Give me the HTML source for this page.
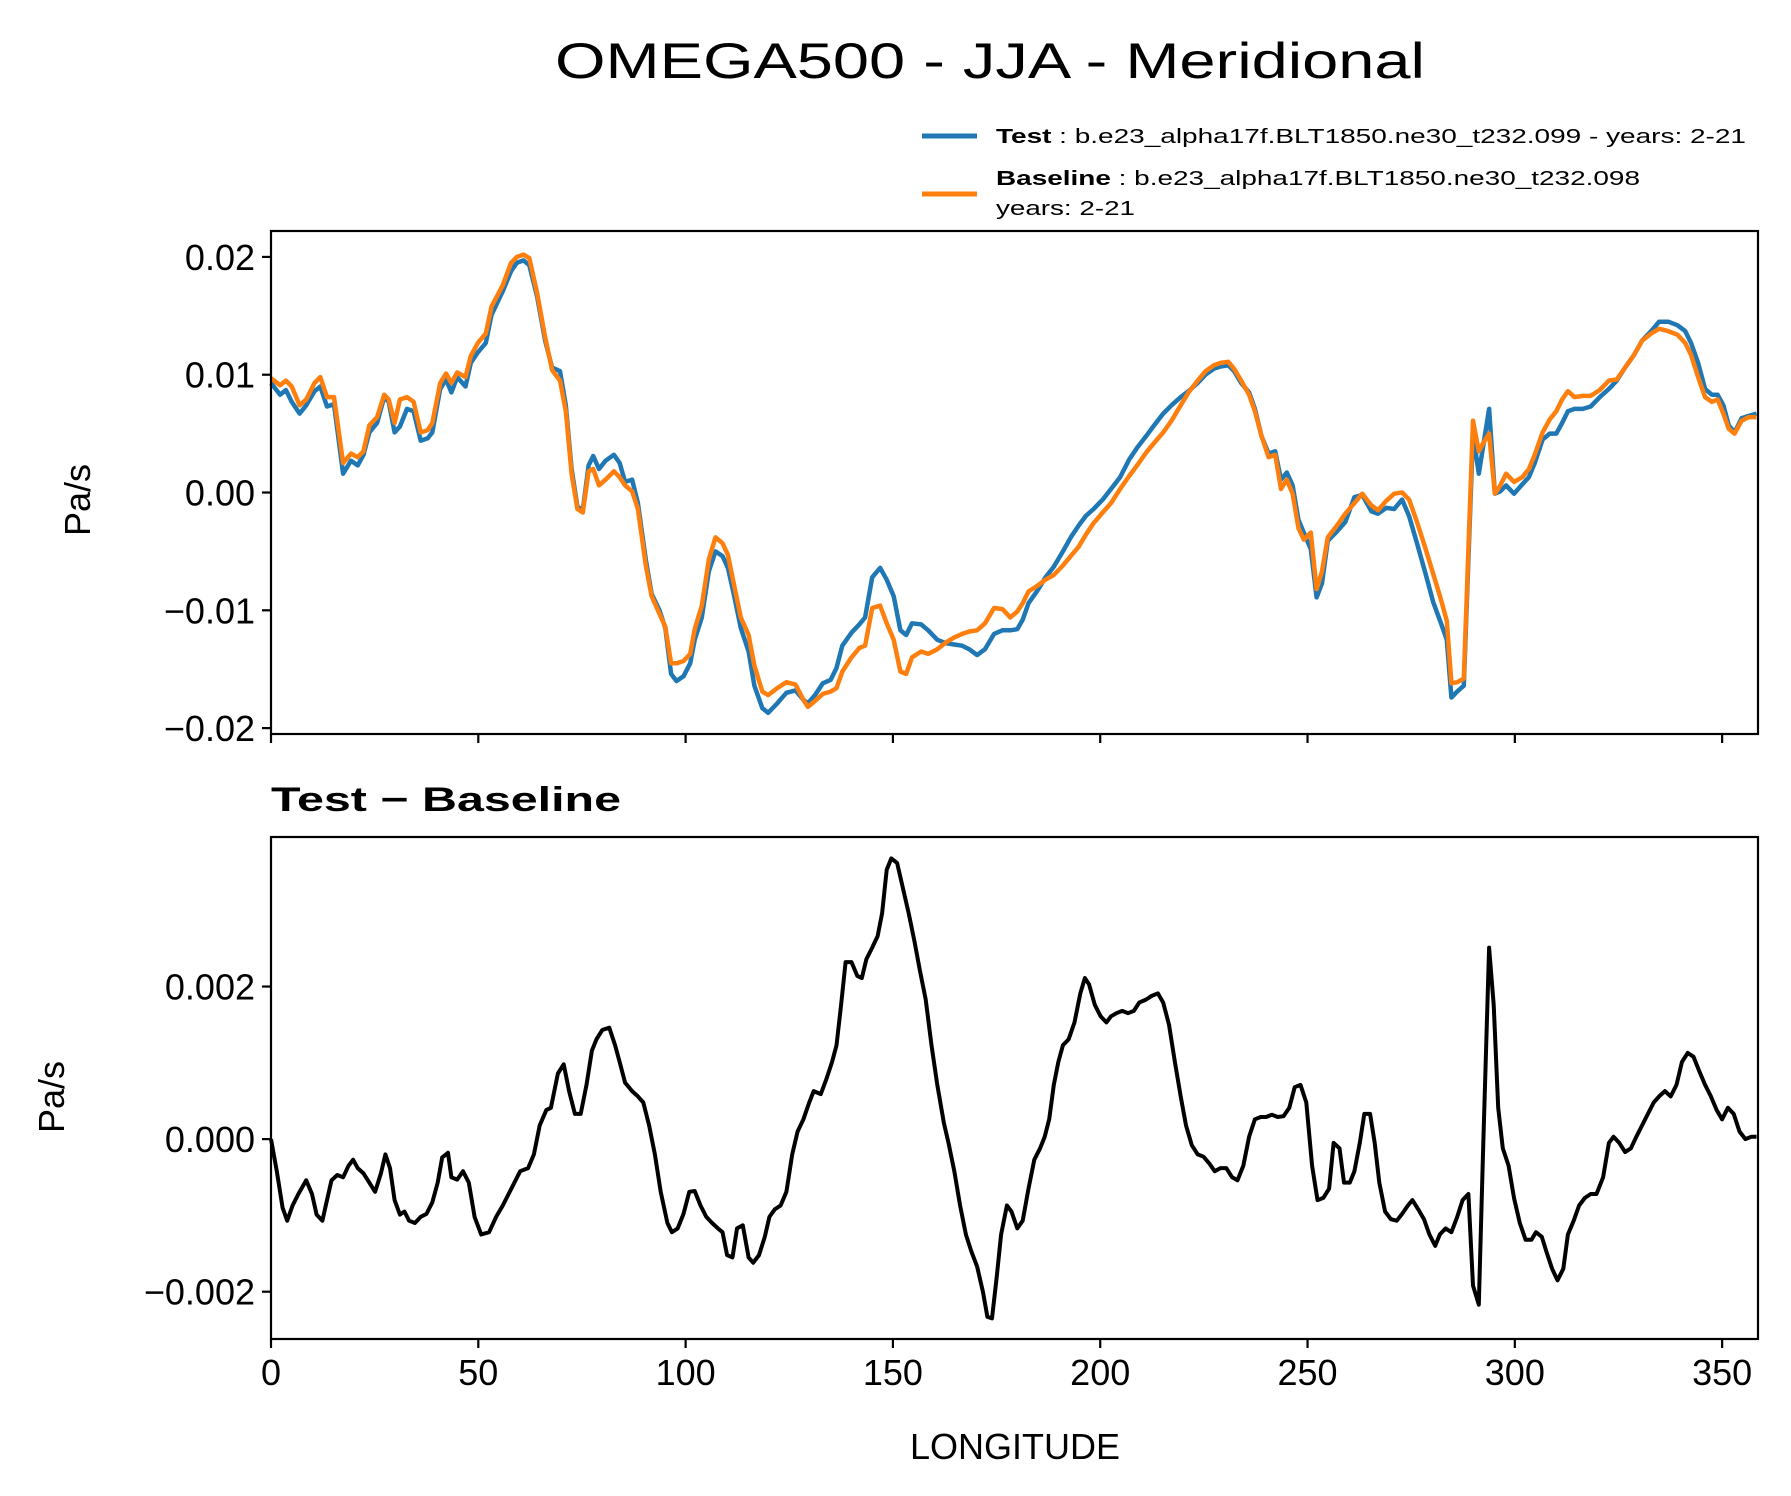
<!DOCTYPE html>
<html><head><meta charset="utf-8"><title>OMEGA500 - JJA - Meridional</title>
<style>html,body{margin:0;padding:0;background:#fff}svg{display:block}text{font-family:"Liberation Sans","DejaVu Sans",sans-serif;fill:#000}</style>
</head><body>
<svg id="chart" width="1791" height="1496" viewBox="0 0 1791 1496" xmlns="http://www.w3.org/2000/svg">
<rect width="1791" height="1496" fill="#fff"/>
<text x="990" y="78" font-size="50" text-anchor="middle" textLength="870" lengthAdjust="spacingAndGlyphs">OMEGA500 - JJA - Meridional</text>
<g>
<line x1="922" y1="136" x2="977" y2="136" stroke="#1f77b4" stroke-width="5"/>
<text x="996" y="143" font-size="20" textLength="750" lengthAdjust="spacingAndGlyphs"><tspan font-weight="bold">Test</tspan> : b.e23_alpha17f.BLT1850.ne30_t232.099 - years: 2-21</text>
<line x1="922" y1="194" x2="977" y2="194" stroke="#ff7f0e" stroke-width="5"/>
<text x="996" y="185" font-size="20" textLength="644" lengthAdjust="spacingAndGlyphs"><tspan font-weight="bold">Baseline</tspan> : b.e23_alpha17f.BLT1850.ne30_t232.098</text>
<text x="996" y="215" font-size="20" textLength="139" lengthAdjust="spacingAndGlyphs">years: 2-21</text>
</g>
<g id="gtop"></g>
<g id="gbot"></g>
<text x="271" y="811" font-size="34" font-weight="bold" textLength="350" lengthAdjust="spacingAndGlyphs">Test − Baseline</text>
<text x="1015" y="1459" font-size="36" text-anchor="middle">LONGITUDE</text>
<text transform="translate(90,500) rotate(-90)" font-size="36" text-anchor="middle">Pa/s</text>
<text transform="translate(64,1097) rotate(-90)" font-size="36" text-anchor="middle">Pa/s</text>
</svg>
<script>
const lonTop = [0,2.2,3.6,5.0,6.9,8.5,10.5,11.9,13.5,15.2,17.4,19.3,20.9,22.3,23.7,25.6,27.3,28.4,29.8,31.1,32.8,34.4,36.1,37.8,38.9,40.8,42.2,43.5,44.9,46.9,48.2,49.9,51.8,53.2,55.9,57.9,59.3,60.9,62.3,64.2,66.1,67.8,69.7,71.1,72.5,73.9,75.2,76.6,77.7,79.1,80.7,82.7,84.1,85.4,87.1,88.5,90.4,91.8,93.7,95.1,96.5,97.8,99.5,101.1,102.2,103.9,105.6,107.2,108.9,110.2,111.6,113.3,115.2,116.6,118.5,119.9,122.1,124.3,126.5,128.4,129.5,131.2,133.1,135.0,136.4,137.8,140.0,141.9,143.3,145.0,146.9,148.5,150.2,151.8,153.2,154.6,156.8,158.5,160.7,162.9,164.8,166.7,168.4,170.3,172.2,174.4,176.4,178.3,180.0,181.3,182.7,184.9,186.8,188.8,191.0,192.9,194.8,196.5,198.4,200.6,202.6,204.8,207.0,208.9,211.1,213.0,215.2,217.2,219.4,221.3,223.5,225.4,227.4,229.0,230.9,232.3,234.0,235.9,237.3,238.9,240.6,242.2,243.6,245.0,246.4,247.8,249.1,250.8,252.2,253.5,254.9,257.1,259.1,261.3,263.2,265.4,267.0,269.0,270.9,272.8,274.5,276.4,278.3,280.3,282.2,283.6,284.7,286.1,287.7,289.9,291.3,292.4,293.8,295.2,296.5,297.9,299.8,301.8,303.4,304.8,306.7,308.4,310.0,311.4,312.8,314.4,316.4,318.3,320.5,322.7,324.6,326.6,328.8,330.7,332.9,334.8,337.0,339.2,341.1,342.5,344.2,345.9,347.5,348.9,350.3,351.6,353.0,354.7,356.4,358.3];
// values in 1e-4 Pa/s
const testVals = [93,83,87,77,67,74,86,90,73,75,16,27,23,32,51,59,81,77,51,56,71,69,44,46,51,88,96,85,98,90,110,119,127,151,171,188,195,197,193,166,129,106,103,74,20,-12,-15,23,31,20,27,32,25,9,11,-9,-57,-86,-100,-115,-154,-160,-156,-145,-125,-106,-67,-50,-54,-64,-86,-115,-135,-164,-183,-187,-179,-170,-168,-176,-179,-172,-162,-159,-149,-130,-119,-112,-106,-72,-64,-74,-88,-117,-121,-111,-112,-117,-125,-128,-129,-130,-133,-138,-133,-120,-117,-117,-116,-108,-94,-83,-72,-63,-50,-38,-28,-20,-14,-6,3,13,28,38,48,57,67,74,81,86,93,100,105,107,108,103,93,85,71,48,33,35,11,17,6,-23,-34,-48,-89,-77,-41,-33,-25,-4,-2,-16,-18,-13,-14,-6,-20,-43,-67,-93,-111,-125,-174,-169,-164,50,16,40,71,-1,1,6,-1,7,13,25,45,50,50,59,69,71,71,73,81,88,95,106,117,129,137,145,145,142,137,127,110,88,83,83,74,57,51,63,65,67];
const baseVals = [97,91,95,90,74,79,93,98,81,81,25,33,30,35,57,64,83,79,59,79,81,77,51,53,59,93,101,93,102,98,116,127,135,158,176,195,200,202,199,169,132,104,95,69,16,-14,-17,18,20,6,11,18,13,6,1,-14,-62,-88,-103,-114,-145,-145,-143,-137,-116,-96,-57,-38,-43,-53,-77,-106,-121,-147,-169,-172,-166,-161,-163,-176,-182,-177,-171,-169,-166,-152,-140,-132,-130,-98,-96,-111,-125,-152,-154,-140,-135,-137,-133,-127,-123,-120,-118,-117,-111,-98,-99,-106,-101,-94,-84,-79,-74,-70,-62,-54,-46,-36,-26,-17,-9,3,14,23,34,42,51,61,74,85,95,103,108,110,111,105,95,83,69,48,30,32,3,11,-1,-30,-40,-34,-82,-67,-38,-28,-18,-9,-1,-11,-15,-7,-1,0,-6,-25,-46,-69,-91,-109,-162,-161,-158,61,35,42,50,-1,6,16,9,13,20,32,51,62,69,79,86,81,82,82,87,95,96,106,117,129,135,139,137,134,127,117,98,81,77,79,67,54,50,61,64,64];
const lonDiff = [0,1.4,2.8,3.9,5.2,6.6,8.5,9.9,11.0,12.4,13.5,14.6,16.0,17.4,18.7,19.8,20.9,22.3,23.7,25.1,26.5,27.6,28.7,29.8,31.1,32.2,33.3,34.7,36.1,37.5,38.9,40.2,41.3,42.7,43.5,44.9,46.3,47.7,49.1,50.7,52.6,54.3,55.9,57.3,58.7,60.1,62.0,63.4,64.8,66.4,67.5,69.2,70.6,71.9,73.3,74.7,76.1,77.4,78.5,79.9,81.6,83.0,84.1,85.4,87.1,88.5,89.8,91.2,92.6,94.0,95.6,96.7,98.1,99.5,100.9,102.2,103.6,105.0,106.4,107.8,108.9,110.0,111.3,112.4,113.8,115.2,116.3,117.7,119.1,120.2,121.5,122.9,124.3,125.7,127.0,128.4,129.8,130.9,132.6,133.9,135.3,136.4,137.5,138.6,140.0,141.4,142.5,143.6,145.0,146.3,147.4,148.5,149.6,151.0,152.4,153.8,155.2,156.5,157.9,159.3,160.7,162.3,163.4,164.8,166.2,167.6,168.9,170.3,171.7,172.8,173.9,175.0,176.1,177.5,178.6,180.0,181.3,182.7,184.1,185.5,186.6,187.7,188.8,189.9,191.0,192.4,193.8,195.2,196.3,197.3,198.7,200.1,201.5,202.6,203.9,205.3,206.7,208.1,209.4,211.1,212.5,213.9,215.2,216.6,218.0,219.4,220.7,222.1,223.5,224.9,226.3,227.6,229.0,230.4,231.8,233.1,234.5,235.9,237.3,238.7,240.0,241.4,242.8,244.2,245.6,246.9,248.3,249.7,251.1,252.4,253.8,255.2,256.3,257.7,258.8,260.2,261.3,262.6,263.7,265.1,266.2,267.3,268.7,270.1,271.5,272.8,274.2,275.3,276.7,278.1,279.4,280.8,281.9,283.3,284.7,286.1,287.4,288.8,289.9,291.3,292.4,293.8,294.9,296.0,297.1,298.5,299.8,301.2,302.6,304.0,305.1,306.5,307.6,309.0,310.3,311.7,312.8,314.2,315.5,316.9,318.3,319.7,321.3,322.7,323.8,325.2,326.6,328.0,329.3,330.7,332.1,333.5,334.8,336.2,337.6,339.0,340.3,341.7,343.1,344.5,345.9,347.3,348.7,350.0,351.4,352.8,354.2,355.6,357.0,358.3];
const diffVals = [0,-4.2,-9.0,-10.7,-8.7,-7.2,-5.4,-7.2,-9.9,-10.7,-8.0,-5.4,-4.7,-5.0,-3.5,-2.7,-3.8,-4.5,-5.7,-6.9,-4.5,-2.0,-3.8,-8.0,-9.9,-9.5,-10.7,-11.0,-10.2,-9.8,-8.3,-5.7,-2.4,-1.8,-5.0,-5.3,-4.2,-5.7,-10.2,-12.5,-12.2,-10.2,-8.7,-7.2,-5.7,-4.2,-3.8,-2.0,1.8,3.8,4.1,8.6,9.8,6.3,3.3,3.3,7.1,11.6,13.1,14.3,14.6,12.3,10.1,7.4,6.3,5.6,4.8,1.8,-2.0,-6.9,-11.0,-12.2,-11.7,-9.8,-6.9,-6.8,-8.7,-10.2,-11.0,-11.7,-12.2,-15.2,-15.5,-11.7,-11.3,-15.5,-16.2,-15.2,-12.8,-10.2,-9.2,-8.7,-6.9,-2.0,1.0,2.6,4.8,6.3,5.9,7.8,10.1,12.3,17.6,23.2,23.2,21.4,21.1,23.6,25.1,26.6,29.6,35.3,36.8,36.2,32.9,29.6,25.9,22.1,18.3,12.3,7.1,2.1,-0.5,-4.2,-8.7,-12.5,-14.7,-16.7,-20.0,-23.3,-23.5,-18.2,-12.5,-8.7,-9.5,-11.7,-10.7,-6.5,-2.7,-1.2,0.3,2.6,7.1,10.1,12.3,13.1,15.3,19.1,21.1,20.3,17.6,16.1,15.3,16.1,16.5,16.8,16.5,16.8,17.9,18.3,18.8,19.1,17.9,15.0,10.1,5.6,1.8,-0.8,-2.0,-2.3,-3.2,-4.2,-3.8,-3.8,-5.0,-5.4,-3.5,0.3,2.6,2.9,2.9,3.2,2.9,3.0,4.1,6.8,7.1,4.8,-3.5,-8.0,-7.7,-6.5,-0.5,-1.2,-5.7,-5.7,-4.2,-0.5,3.3,3.3,-0.5,-5.7,-9.5,-10.5,-10.7,-9.8,-8.7,-8.0,-9.2,-10.5,-12.5,-14.0,-12.5,-11.7,-12.2,-10.2,-8.0,-7.2,-19.2,-21.7,-0.5,25.1,17.6,4.1,-1.2,-3.5,-7.7,-11.0,-13.2,-13.2,-12.2,-12.8,-14.7,-17.0,-18.5,-17.0,-12.5,-10.7,-8.7,-7.7,-7.2,-7.2,-5.0,-0.5,0.3,-0.5,-1.7,-1.2,0.3,1.8,3.3,4.8,5.6,6.3,5.6,7.1,10.1,11.3,10.8,8.9,7.1,5.6,3.8,2.6,4.1,3.3,1.0,0,0.3,0.3];
const xTicks = [0,50,100,150,200,250,300,350];
const topTicks = [0.02,0.01,0.00,-0.01,-0.02];
const topTickLabels = ["0.02","0.01","0.00","\u22120.01","\u22120.02"];
const botTicks = [0.002,0.000,-0.002];
const botTickLabels = ["0.002","0.000","\u22120.002"];

const NS="http://www.w3.org/2000/svg";
const L=271,R=1758;
const xMin=0,xMax=358.65;
const X=v=>L+(v-xMin)/(xMax-xMin)*(R-L);
const topY0=231,topY1=734,topMax=0.0222,topMin=-0.0205;
const botY0=837,botY1=1339,botMax=0.00396,botMin=-0.00262;
const YT=v=>topY0+(topMax-v)/(topMax-topMin)*(topY1-topY0);
const YB=v=>botY0+(botMax-v)/(botMax-botMin)*(botY1-botY0);
function mk(tag,attrs,parent){const e=document.createElementNS(NS,tag);for(const k in attrs)e.setAttribute(k,attrs[k]);parent.appendChild(e);return e;}
function pathD(xs,ys,Y){let d="";const n=Math.min(xs.length,ys.length);for(let i=0;i<n;i++){d+=(i?"L":"M")+X(xs[i]).toFixed(1)+","+Y(ys[i]*1e-4).toFixed(1);}return d;}

function panel(g,y0,y1,Y,ticks,labels,prefix,showX){
  ticks.forEach((t,i)=>{
    const yy=Y(t);
    const tk=mk("line",{x1:L-9,x2:L,y1:yy,y2:yy,stroke:"#000","stroke-width":2.2},g);
    
    
    const tx=mk("text",{x:L-16,y:yy+13,"font-size":36,"text-anchor":"end"},g);
    tx.textContent=labels[i];
    
    
  });
  xTicks.forEach(t=>{
    const xx=X(t);
    const tk=mk("line",{x1:xx,x2:xx,y1:y1,y2:y1+9,stroke:"#000","stroke-width":2.2},g);
    
    
    if(showX){
      const tx=mk("text",{x:xx,y:y1+46,"font-size":36,"text-anchor":"middle"},g);
      tx.textContent=String(t);
      
      
    }
  });
}
const gTop=document.getElementById("gtop"), gBot=document.getElementById("gbot");
panel(gTop,topY0,topY1,YT,topTicks,topTickLabels,"top",false);
panel(gBot,botY0,botY1,YB,botTicks,botTickLabels,"bottom",true);

const pt=mk("path",{d:pathD(lonTop,testVals,YT),fill:"none",stroke:"#1f77b4","stroke-width":4.5,"stroke-linejoin":"round"},gTop);


const pb=mk("path",{d:pathD(lonTop,baseVals,YT),fill:"none",stroke:"#ff7f0e","stroke-width":4.5,"stroke-linejoin":"round"},gTop);


const pd=mk("path",{d:pathD(lonDiff,diffVals,YB),fill:"none",stroke:"#000","stroke-width":4,"stroke-linejoin":"round"},gBot);



const f1=mk("rect",{x:L,y:topY0,width:R-L,height:topY1-topY0,fill:"none",stroke:"#000","stroke-width":2.2},gTop);


const f2=mk("rect",{x:L,y:botY0,width:R-L,height:botY1-botY0,fill:"none",stroke:"#000","stroke-width":2.2},gBot);


</script>
</body></html>
